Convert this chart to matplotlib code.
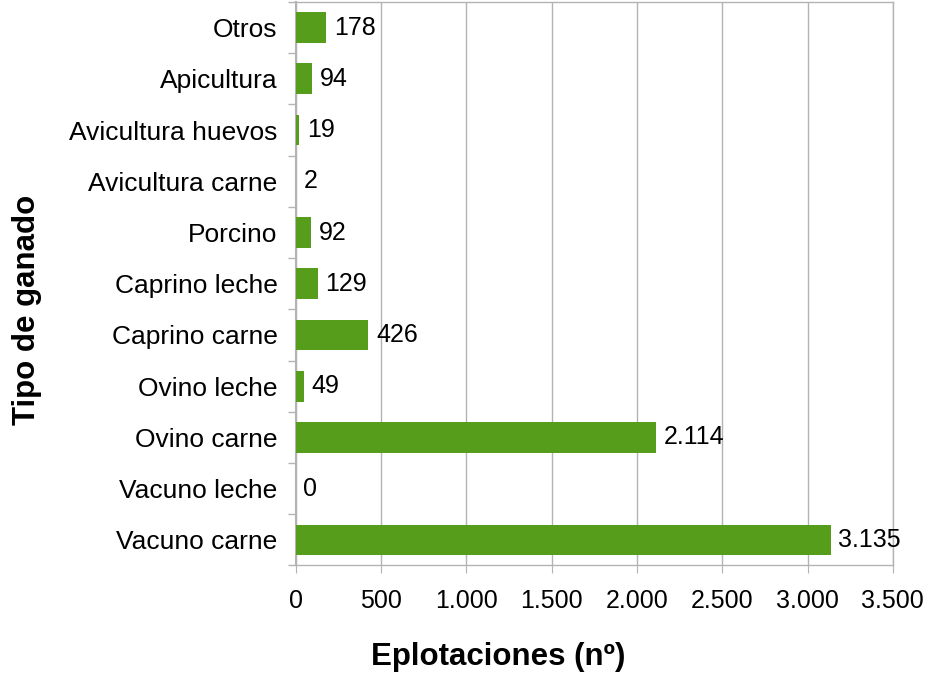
import matplotlib
matplotlib.use("Agg")
import matplotlib.pyplot as plt
from matplotlib.ticker import FuncFormatter, FixedLocator

plt.rcParams['font.family'] = ['Liberation Sans', 'DejaVu Sans']

categories = ["Vacuno carne", "Vacuno leche", "Ovino carne", "Ovino leche",
              "Caprino carne", "Caprino leche", "Porcino", "Avicultura carne",
              "Avicultura huevos", "Apicultura", "Otros"]
values = [3135, 0, 2114, 49, 426, 129, 92, 2, 19, 94, 178]
xticks = [0, 500, 1000, 1500, 2000, 2500, 3000, 3500]

bar_color = "#579d1c"
grid_color = "#b3b3b3"


def es_fmt(v):
    return f"{int(v):,}".replace(",", ".")


fig = plt.figure(figsize=(9.3, 6.74), dpi=100)
ax = fig.add_axes([0.318, 0.161, 0.642, 0.836])

pos = list(range(len(categories)))
ax.barh(pos, values, height=0.6, color=bar_color, zorder=3)
for p, v in zip(pos, values):
    ax.text(v + 45, p, es_fmt(v), va="center", ha="left", fontsize=18, zorder=4)

ax.set_xlim(0, 3500)
ax.set_ylim(-0.5, len(categories) - 0.5)
ax.set_xticks(xticks)
ax.xaxis.set_major_formatter(FuncFormatter(lambda v, _: es_fmt(v)))
ax.set_yticks(pos)
ax.set_yticklabels(categories)
ax.yaxis.set_minor_locator(FixedLocator([p - 0.5 for p in range(len(categories) + 1)]))

ax.tick_params(axis="y", which="major", length=0, labelsize=19, pad=13)
ax.tick_params(axis="y", which="minor", length=6, color=grid_color, width=1)
ax.tick_params(axis="x", which="major", length=6, color=grid_color, labelsize=18, pad=11)

ax.grid(axis="x", color=grid_color, linewidth=1, zorder=0)
for s in ax.spines.values():
    s.set_color(grid_color)
    s.set_linewidth(1)
ax.spines["left"].set_linewidth(1.5)

fig.text(498 / 930, 1 - 657 / 674, "Eplotaciones (nº)", fontsize=22.5,
         fontweight="bold", ha="center", va="center")
fig.text(27 / 930, 1 - 310 / 674, "Tipo de ganado", fontsize=22.5,
         fontweight="bold", ha="center", va="center", rotation=90)

fig.savefig("out.png", dpi=100)
plt.close(fig)
